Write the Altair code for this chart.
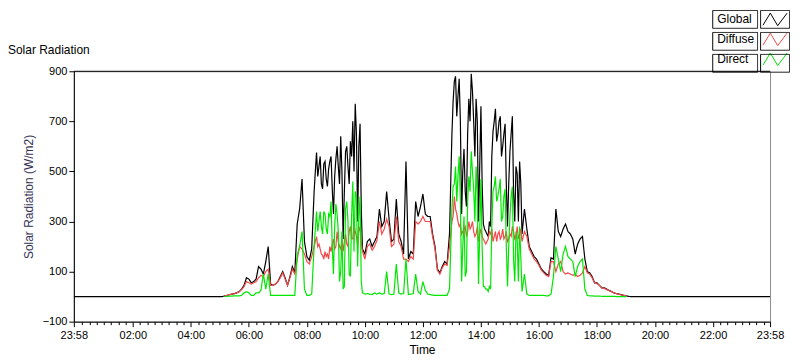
import altair as alt
import pandas as pd

# sample times (minutes after midnight) for daylight readings, 05:10 .. 19:00 every 5 min
times = list(range(310, 1141, 5))
# extra in-between readings in the two very gusty periods
mid_times_morning = [497.5 + 5 * i for i in range(20)]     # 08:17.5 .. 09:52.5
mid_times_afternoon = [782.5 + 5 * i for i in range(29)]   # 13:02.5 .. 15:22.5

global_vals = (
    [3, 5, 8, 10, 12, 15, 20, 30, 45, 75]
    + [70, 55, 60, 70, 120, 110, 90, 140, 200, 50, 45, 50]
    + [60, 80, 100, 75, 45, 80, 120, 95, 290, 350, 470, 220]
    + [160, 145, 190, 420, 575, 520, 450, 530, 470, 510, 560, 330]
    + [550, 520, 640, 230, 580, 520, 620, 700, 770, 300, 690, 190]
    + [170, 220, 230, 200, 220, 240, 350, 280, 300, 420, 310, 220]
    + [230, 390, 250, 220, 170, 540, 150, 180, 170, 380, 320, 360]
    + [410, 330, 320, 320, 250, 200, 110, 95, 120, 140, 130, 250]
    + [650, 860, 720, 870, 330, 590, 360, 790, 890, 700, 790, 300]
    + [760, 290, 260, 240, 280, 660, 750, 650, 720, 600, 690, 280]
    + [580, 720, 300, 490, 540, 250, 350, 270, 200, 180, 160, 150]
    + [130, 110, 100, 90, 85, 155, 150, 350, 260, 240, 270, 290]
    + [260, 250, 230, 170, 210, 230, 240, 150, 100, 95, 80, 55]
    + [55, 45, 35, 35, 30, 25, 20, 15, 12, 10, 8, 5]
    + [3]
)
global_mid_morning = [500, 480, 560, 430, 540, 440, 540, 430, 480,
                      600, 450, 500, 420, 600, 450, 560, 500, 650, 600, 350]
global_mid_afternoon = [780, 880, 800, 700, 500, 420, 650, 700, 820, 560, 700, 520,
                        450, 270, 250, 300, 560, 700, 620, 700, 560, 650, 450, 450,
                        650, 420, 520, 300, 450]

diffuse_vals = (
    [3, 5, 8, 10, 12, 15, 20, 28, 40, 60]
    + [55, 50, 55, 60, 75, 85, 80, 100, 110, 45, 45, 50]
    + [60, 75, 95, 70, 45, 75, 110, 90, 150, 200, 190, 170]
    + [140, 130, 160, 200, 240, 210, 170, 150, 160, 150, 180, 230]
    + [200, 220, 190, 180, 250, 200, 280, 230, 260, 200, 280, 180]
    + [150, 200, 210, 185, 200, 225, 300, 250, 270, 310, 280, 200]
    + [210, 320, 220, 200, 150, 150, 140, 160, 150, 300, 290, 300]
    + [320, 300, 300, 300, 240, 190, 105, 90, 115, 130, 125, 200]
    + [300, 400, 330, 280, 250, 270, 240, 300, 280, 260, 250, 220]
    + [270, 230, 210, 230, 250, 220, 260, 250, 230, 270, 240, 220]
    + [250, 280, 230, 280, 250, 220, 260, 240, 190, 170, 150, 140]
    + [125, 105, 95, 85, 80, 140, 140, 100, 130, 140, 100, 90]
    + [95, 90, 85, 90, 80, 85, 95, 120, 95, 90, 75, 55]
    + [52, 45, 35, 33, 28, 24, 20, 15, 12, 10, 7, 5]
    + [3]
)
diffuse_mid_morning = [220, 200, 190, 165, 180, 170, 200, 210, 190,
                       260, 200, 230, 220, 210, 260, 230, 300, 240, 260, 220]
diffuse_mid_afternoon = [320, 350, 300, 290, 260, 280, 260, 270, 300, 240, 280, 250,
                         240, 220, 220, 260, 270, 240, 220, 260, 240, 230, 260, 230,
                         240, 260, 240, 230, 270]

direct_vals = (
    [0, 1, 2, 2, 3, 3, 3, 5, 15, 20]
    + [15, 5, 5, 15, 15, 25, 90, 30, 90, 5, 5, 5]
    + [5, 5, 5, 5, 5, 5, 5, 5, 165, 200, 260, 30]
    + [5, 5, 10, 200, 340, 300, 280, 340, 270, 330, 380, 90]
    + [370, 260, 100, 30, 350, 300, 80, 460, 420, 120, 400, 15]
    + [10, 12, 10, 8, 15, 10, 15, 10, 12, 100, 10, 8]
    + [10, 130, 15, 10, 12, 150, 8, 10, 12, 90, 20, 10]
    + [60, 25, 10, 8, 6, 5, 5, 5, 5, 5, 5, 30]
    + [350, 450, 380, 560, 60, 320, 100, 480, 580, 430, 520, 50]
    + [470, 40, 30, 20, 30, 420, 480, 400, 470, 320, 430, 40]
    + [320, 440, 60, 230, 280, 20, 90, 10, 5, 5, 5, 5]
    + [5, 5, 5, 3, 3, 10, 80, 200, 150, 100, 170, 200]
    + [160, 150, 140, 80, 120, 140, 150, 30, 5, 3, 3, 2]
    + [2, 2, 1, 1, 1, 1, 1, 1, 0, 0, 0, 0]
    + [0]
)
direct_mid_morning = [270, 260, 340, 250, 330, 250, 320, 200, 280,
                      330, 60, 260, 40, 380, 90, 320, 180, 400, 320, 60]
direct_mid_afternoon = [440, 520, 480, 380, 200, 80, 380, 420, 500, 300, 400, 260,
                        200, 40, 30, 40, 280, 440, 380, 430, 300, 400, 200, 200,
                        400, 150, 260, 60, 160]

# night-time readings of the global sensor (whole day 23:58 .. 23:58)
global_night_before_t = [-2, 300, 305]
global_night_before_v = [0, 0, 0]
global_night_after_t = [1145, 1150, 1438]
global_night_after_v = [1, 0, 0]

series_names = ["Global", "Diffuse", "Direct"]
series_colors = ["#000000", "#f24a4a", "#00e600"]
frame_keys = ["Global box", "Diffuse box", "Direct box"]
chart_title = ["Solar Radiation"]

y_ticks = [-100, 0, 100, 200, 300, 400, 500, 600, 700, 800, 900]
x_major = [-2, 120, 240, 360, 480, 600, 720, 840, 960, 1080, 1200, 1320, 1438]
x_minor = [m for m in range(15, 1436, 15) if m % 120 != 0]
x_ticks = sorted(x_major + x_minor)

mid_t = mid_times_morning + mid_times_afternoon
rows = []
for t, v in zip(global_night_before_t + times + mid_t + global_night_after_t,
                global_night_before_v + global_vals + global_mid_morning
                + global_mid_afternoon + global_night_after_v):
    rows.append({"t": t, "v": v, "series": "Global"})
for t, v in zip(times + mid_t, diffuse_vals + diffuse_mid_morning + diffuse_mid_afternoon):
    rows.append({"t": t, "v": v, "series": "Diffuse"})
for t, v in zip(times + mid_t, direct_vals + direct_mid_morning + direct_mid_afternoon):
    rows.append({"t": t, "v": v, "series": "Direct"})
df = pd.DataFrame(rows).sort_values(["series", "t"]).reset_index(drop=True)
df["frame"] = df["series"] + " box"  # drives the boxed frames of the legend

FONT = "Liberation Sans"

label_expr = (
    "datum.value < 0 || datum.value > 1430 ? '23:58' : "
    "(datum.value % 120 == 0 ? (datum.value < 600 ? '0' : '') + floor(datum.value / 60) + ':00' : '')"
)

x_enc = alt.X(
    "t:Q",
    scale=alt.Scale(domain=[-2, 1438], nice=False, zero=False),
    axis=alt.Axis(
        values=x_ticks,
        labelExpr=label_expr,
        labelOverlap=False,
        labelFlush=False,
        tickSize={"condition": {"test": "datum.value % 120 == 0 || datum.value < 0 || datum.value > 1430",
                                "value": 5}, "value": 3},
        labelPadding=3,
        titlePadding=4,
        title="Time",
    ),
)
y_enc = alt.Y(
    "v:Q",
    scale=alt.Scale(domain=[-100, 900], nice=False, zero=False),
    axis=alt.Axis(
        values=y_ticks,
        labelOverlap=False,
        tickSize=5,
        labelPadding=2,
        titlePadding=7,
        titleColor="#333355",
        title="Solar Radiation (W/m2)",
    ),
)

LEG_X = 692
LEG_Y = -63
LEG_SIZE = 441
zig = "M-1.15,0.55L-0.45,-0.6L0.25,0.6L1.15,-0.6"
boxes = ("M-5.95,-0.85H-1.67V0.85H-5.95Z"
         "M-1.38,-0.85H1.38V0.85H-1.38Z")

color_enc = alt.Color(
    "series:N",
    scale=alt.Scale(domain=series_names, range=series_colors),
    legend=alt.Legend(
        title=None,
        orient="none",
        legendX=LEG_X,
        legendY=LEG_Y,
        symbolType=zig,
        symbolSize=LEG_SIZE,
        symbolStrokeWidth=1,
        symbolFillColor="transparent",
        labelAlign="left",
        labelOffset={"expr": "-69"},
        labelFontSize=12,
        labelFont=FONT,
        labelColor="black",
        rowPadding=0,
        padding=0,
    ),
)
frame_enc = alt.StrokeDash(
    "frame:N",
    scale=alt.Scale(domain=frame_keys, range=[[1, 0], [1, 0], [1, 0]]),
    legend=alt.Legend(
        title=None,
        orient="none",
        legendX=LEG_X,
        legendY=LEG_Y,
        symbolType=boxes,
        symbolSize=LEG_SIZE,
        symbolStrokeWidth=1,
        symbolStrokeColor="black",
        symbolFillColor="transparent",
        labelExpr="''",
        labelOpacity=0,
        labelFontSize=12,
        labelOffset=0,
        rowPadding=0,
        padding=0,
    ),
)

base = alt.Chart(df)
layers = []
for name in series_names:
    layers.append(
        base.transform_filter(alt.datum.series == name)
        .mark_line(strokeWidth=1.2, clip=True)
        .encode(x=x_enc, y=y_enc, color=color_enc, strokeDash=frame_enc)
    )

top_line = alt.Chart(pd.DataFrame({"v": [900]})).mark_rule(color="black", strokeWidth=1).encode(y="v:Q")

title_text = (
    alt.Chart(pd.DataFrame({"label": chart_title}))
    .mark_text(align="left", baseline="middle", font=FONT, fontSize=12, color="black")
    .encode(text="label:N", x=alt.value(-66), y=alt.value(-21))
)

chart = (
    alt.layer(*layers, top_line, title_text)
    .properties(width=698, height=251, padding=0)
    .configure_view(stroke="#8c8c8c")
    .configure_axis(
        labelFont=FONT,
        labelFontSize=11,
        labelColor="black",
        titleFont=FONT,
        titleFontSize=12,
        titleFontWeight="normal",
        titleColor="black",
        domainColor="black",
        tickColor="black",
        grid=False,
    )
)

chart.save("out.html", embed_options={"renderer": "svg", "actions": False})
